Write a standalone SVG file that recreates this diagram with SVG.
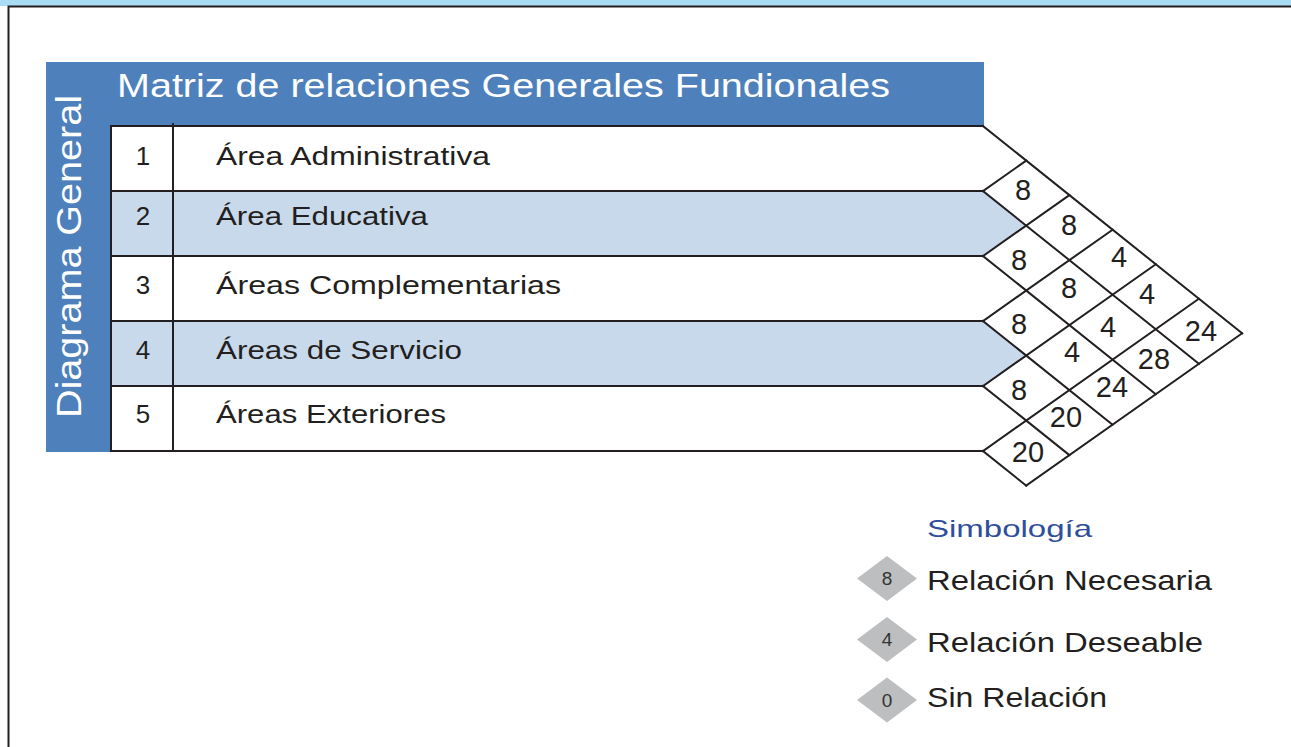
<svg xmlns="http://www.w3.org/2000/svg" width="1291" height="747" viewBox="0 0 1291 747">
  <style>
    .txt { font-family: "Liberation Sans", Arial, sans-serif; fill: #231f20; }
    .white { font-family: "Liberation Sans", Arial, sans-serif; fill: #ffffff; }
    .row { font-size: 26px; }
    .num { font-size: 26px; text-anchor: middle; }
    .cell { font-size: 29px; text-anchor: middle; }
    .leg { font-size: 28px; }
    .legnum { font-size: 19px; text-anchor: middle; fill: #333333; }
    .ln { stroke: #231f20; stroke-width: 2; fill: none; stroke-linecap: square; }
    .band { fill: #4e80bc; }
    .alt { fill: #c9d9ec; }
    .gray { fill: #bcbec0; }
  </style>

  <!-- frame -->
  <rect x="0" y="0" width="1291" height="6" fill="#aadcf5"/>
  <path d="M8.5,747 V6.5 H1291" stroke="#231f20" stroke-width="2" fill="none"/>

  <!-- header -->
  <g id="title">
    <rect class="band" x="107" y="62" width="877" height="64"/>
    <text class="white" x="117" y="97" font-size="33" textLength="773" lengthAdjust="spacingAndGlyphs">Matriz de relaciones Generales Fundionales</text>
  </g>
  <g id="side-label">
    <rect class="band" x="46" y="62" width="65" height="390"/>
    <text class="white" transform="translate(81,418) rotate(-90)" x="0" y="0" font-size="35" textLength="323" lengthAdjust="spacingAndGlyphs">Diagrama General</text>
  </g>

  <!-- rows -->
  <g id="row-1">
    <text class="txt num" x="143" y="165">1</text>
    <text class="txt row" x="216" y="165" textLength="274" lengthAdjust="spacingAndGlyphs">Área Administrativa</text>
  </g>
  <g id="row-2">
    <polygon class="alt" points="111,191 983,191 1026.2,225.5 983,256 111,256"/>
    <text class="txt num" x="143" y="225">2</text>
    <text class="txt row" x="216" y="225" textLength="212" lengthAdjust="spacingAndGlyphs">Área Educativa</text>
  </g>
  <g id="row-3">
    <text class="txt num" x="143" y="294">3</text>
    <text class="txt row" x="216" y="294" textLength="345" lengthAdjust="spacingAndGlyphs">Áreas Complementarias</text>
  </g>
  <g id="row-4">
    <polygon class="alt" points="111,321 983,321 1026.2,355.5 983,386 111,386"/>
    <text class="txt num" x="143" y="359">4</text>
    <text class="txt row" x="216" y="359" textLength="246" lengthAdjust="spacingAndGlyphs">Áreas de Servicio</text>
  </g>
  <g id="row-5">
    <text class="txt num" x="143" y="423">5</text>
    <text class="txt row" x="216" y="423" textLength="230" lengthAdjust="spacingAndGlyphs">Áreas Exteriores</text>
  </g>

  <!-- table and matrix grid -->
  <g id="matrix-grid">
    <path class="ln" d="M111,126 H983 M111,191 H983 M111,256 H983 M111,321 H983 M111,386 H983 M111,451 H983"/>
    <path class="ln" d="M111,126 V451 M173,124 V451"/>
    <path class="ln" d="M983,126 L1242.1,333.3 M983,191 L1198.9,363.8 M983,256 L1155.8,394.2 M983,321 L1112.6,424.7 M983,386 L1069.4,455.1 M983,451 L1026.2,485.6"/>
    <path class="ln" d="M983,191 L1026.2,160.6 M983,256 L1069.4,195.1 M983,321 L1112.6,229.7 M983,386 L1155.8,264.2 M983,451 L1198.9,298.8 M1026.2,485.6 L1242.1,333.3"/>
  </g>

  <!-- matrix values -->
  <g id="matrix-values" class="txt">
    <text class="cell" x="1023" y="200">8</text>
    <text class="cell" x="1069" y="235">8</text>
    <text class="cell" x="1019" y="270">8</text>
    <text class="cell" x="1119" y="267">4</text>
    <text class="cell" x="1069" y="298">8</text>
    <text class="cell" x="1147" y="304">4</text>
    <text class="cell" x="1019" y="334">8</text>
    <text class="cell" x="1108" y="337">4</text>
    <text class="cell" x="1201" y="341">24</text>
    <text class="cell" x="1072" y="362">4</text>
    <text class="cell" x="1154" y="369">28</text>
    <text class="cell" x="1019" y="400">8</text>
    <text class="cell" x="1112" y="397">24</text>
    <text class="cell" x="1066" y="427">20</text>
    <text class="cell" x="1028" y="462">20</text>
  </g>

  <!-- legend -->
  <g id="legend-title">
    <text x="927" y="537" font-family="Liberation Sans, Arial, sans-serif" font-size="24" fill="#2f4e9c" textLength="165" lengthAdjust="spacingAndGlyphs">Simbología</text>
  </g>
  <g id="legend-necesaria">
    <polygon class="gray" points="857,578.5 887,556 917,578.5 887,601"/>
    <text class="txt legnum" x="887" y="585">8</text>
    <text class="txt leg" x="927" y="590" textLength="285" lengthAdjust="spacingAndGlyphs">Relación Necesaria</text>
  </g>
  <g id="legend-deseable">
    <polygon class="gray" points="857,639.5 887,617 917,639.5 887,662"/>
    <text class="txt legnum" x="887" y="646">4</text>
    <text class="txt leg" x="927" y="652" textLength="276" lengthAdjust="spacingAndGlyphs">Relación Deseable</text>
  </g>
  <g id="legend-sin">
    <polygon class="gray" points="857,700 887,677.5 917,700 887,722.5"/>
    <text class="txt legnum" x="887" y="707">0</text>
    <text class="txt leg" x="927" y="707" textLength="180" lengthAdjust="spacingAndGlyphs">Sin Relación</text>
  </g>
</svg>
